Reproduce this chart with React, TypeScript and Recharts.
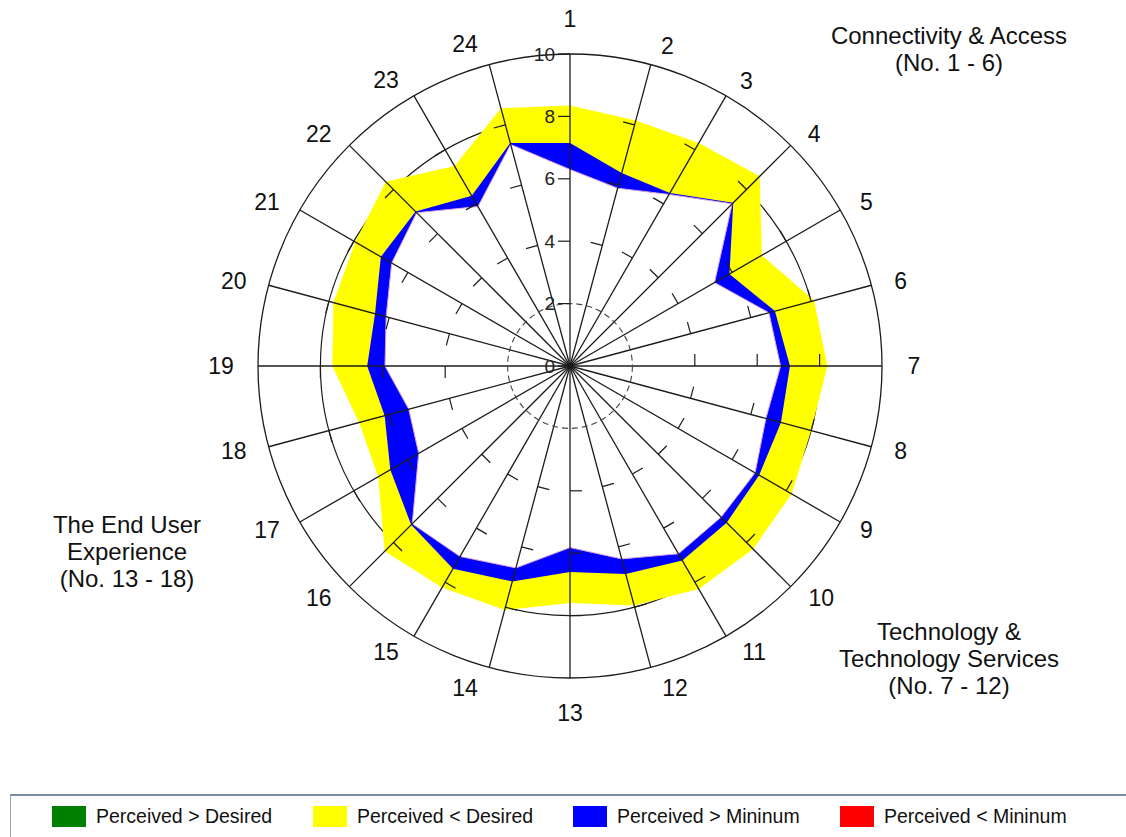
import { RadarChart, Radar, PolarGrid, PolarAngleAxis, PolarRadiusAxis } from 'recharts'

// survey items, 1..24 clockwise from the top
const items = [
  '1', '2', '3', '4', '5', '6', '7', '8', '9', '10', '11', '12',
  '13', '14', '15', '16', '17', '18', '19', '20', '21', '22', '23', '24',
]
const minimum = [
  6.3, 5.9, 6.35, 7.35, 5.35, 6.6, 6.75, 6.5, 6.85, 6.85, 6.95, 6.4,
  5.82, 6.7, 7.05, 7.15, 5.6, 5.35, 5.93, 6.1, 6.6, 6.95, 5.9, 7.35,
]
const perceived = [
  7.15, 6.4, 6.4, 7.4, 5.9, 6.8, 7.05, 7.0, 7.0, 7.1, 7.2, 6.9,
  6.6, 7.15, 7.5, 7.2, 6.65, 6.15, 6.5, 6.47, 7.0, 7.0, 6.3, 7.4,
]
const desired = [
  8.35, 8.15, 8.25, 8.6, 7.1, 8.1, 8.25, 8.0, 8.2, 8.3, 8.25, 7.95,
  7.6, 8.1, 8.2, 8.4, 7.1, 7.0, 7.62, 7.85, 7.95, 8.35, 7.4, 8.55,
]
const scaleMax = 10
const scaleTickCount = 6 // 0, 2, 4, 6, 8, 10
const spokeTickValues = [4, 6, 8]
const innerRing = 2
const middleRing = 8

const groupTopRight = ['Connectivity & Access', '(No. 1 - 6)']
const groupBottomRight = ['Technology &', 'Technology Services', '(No. 7 - 12)']
const groupLeft = ['The End User', 'Experience', '(No. 13 - 18)']

const legendItems = [
  { label: 'Perceived > Desired', color: '#008000' },
  { label: 'Perceived < Desired', color: '#ffff00' },
  { label: 'Perceived > Mininum', color: '#0000ff' },
  { label: 'Perceived < Mininum', color: '#ff0000' },
]

const data = items.map((item, i) => ({
  item,
  minimum: minimum[i],
  perceived: perceived[i],
  desired: desired[i],
}))

const W = 1126
const H = 790
const CX = 570
const CY = 366
const R = 312
const FONT = '"Liberation Sans", Arial, sans-serif'
const LINE = '#1c1c1c'
const noMargin = { top: 0, right: 0, bottom: 0, left: 0 }

// the old chart pushes its labels a little away from the vertical axis
function AngleTick(props: any) {
  const { x, y, payload } = props
  const label = String(payload.value)
  const th = Math.atan2(x - CX, -(y - CY))
  const s = Math.sin(th)
  const c = Math.cos(th)
  const two = label.length > 1
  let rho = 347
  let delta = 0
  if (Math.abs(s) > 1e-3) {
    rho = two ? 345 - 8 * Math.abs(c) + 4 * Math.abs(s) : 344 - 10 * Math.abs(c)
    delta = (((two ? 3.2 : 2.0) * c * Math.sign(s)) * Math.PI) / 180
  }
  const t = th + delta
  return (
    <text x={CX + rho * Math.sin(t)} y={CY - rho * Math.cos(t)} textAnchor="middle"
      dominantBaseline="central" fontSize={23} fontFamily={FONT} fill="#111">
      {label}
    </text>
  )
}

function makeSpokeTick(angle: number, labelled: boolean) {
  const rad = (angle * Math.PI) / 180
  const dx = -Math.sin(rad) * 12
  const dy = -Math.cos(rad) * 12
  return (props: any) => {
    const { x, y, payload } = props
    const v = Number(payload.value)
    if (!labelled && !spokeTickValues.includes(v)) return <g />
    return (
      <g>
        <line x1={x} y1={y} x2={x + dx} y2={y + dy} stroke={LINE} strokeWidth={1.2} />
        {labelled && (
          <text x={x - 15} y={y} textAnchor="end" dominantBaseline="central"
            fontSize={19} fontFamily={FONT} fill="#222">
            {v}
          </text>
        )}
      </g>
    )
  }
}

function TextBlock({ lines, cx, top }: { lines: string[]; cx: number; top: number }) {
  return (
    <div style={{
      position: 'absolute', left: cx - 160, top, width: 320, textAlign: 'center',
      fontFamily: FONT, fontSize: 24, lineHeight: '27px', color: '#111',
    }}>
      {lines.map((l) => <div key={l}>{l}</div>)}
    </div>
  )
}

const legendX = [52, 313, 573, 840]

export default function App() {
  return (
    <div style={{ position: 'absolute', left: 0, top: 0, width: W, height: 837, background: '#fff', overflow: 'hidden' }}>
      <div style={{ position: 'absolute', left: 0, top: 0 }}>
        <RadarChart width={W} height={H} data={data} cx={CX} cy={CY} outerRadius={R}
          startAngle={90} endAngle={-270} margin={noMargin}>
          <PolarGrid gridType="circle" radialLines={false}
            polarRadius={[(R * middleRing) / scaleMax]} stroke={LINE} strokeWidth={1.2} />
          <PolarAngleAxis dataKey="item" tick={false} tickLine={false} axisLine={false} />
          <PolarRadiusAxis domain={[0, scaleMax]} tick={false} axisLine={false} />
          <Radar dataKey="desired" fill="#ffff00" fillOpacity={1} stroke="none" isAnimationActive={false} />
          <Radar dataKey="perceived" fill="#0000ff" fillOpacity={1} stroke="none" isAnimationActive={false} />
          <Radar dataKey="minimum" fill="#ffffff" fillOpacity={1} stroke="#d9a3d9" strokeWidth={1} isAnimationActive={false} />
        </RadarChart>
      </div>
      <div style={{ position: 'absolute', left: 0, top: 0 }}>
        <RadarChart width={W} height={H} data={data} cx={CX} cy={CY} outerRadius={R}
          startAngle={90} endAngle={-270} margin={noMargin}>
          <PolarGrid gridType="circle" polarRadius={[R]} stroke={LINE} strokeWidth={1.3} />
          <PolarGrid gridType="circle" radialLines={false}
            polarRadius={[(R * innerRing) / scaleMax]} stroke="#444" strokeWidth={1.1} strokeDasharray="6 4" />
          <PolarAngleAxis dataKey="item" tickSize={31} tickLine={false} axisLine={false} tick={AngleTick} />
          {items.map((item, i) => (
            <PolarRadiusAxis
              key={item}
              angle={90 - i * 15}
              domain={[0, scaleMax]}
              tickCount={scaleTickCount}
              axisLine={false}
              tick={makeSpokeTick(90 - i * 15, i === 0)}
            />
          ))}
          <Radar dataKey="desired" fill="none" stroke="none" isAnimationActive={false} />
        </RadarChart>
      </div>
      <TextBlock lines={groupTopRight} cx={949} top={22} />
      <TextBlock lines={groupBottomRight} cx={949} top={618} />
      <TextBlock lines={groupLeft} cx={127} top={511} />
      <div style={{
        position: 'absolute', left: 10, top: 794, width: 1130, height: 60,
        borderTop: '2px solid #7d8ba5', borderLeft: '1px solid #9aa4b5',
      }} />
      {legendItems.map((it, i) => (
        <div key={it.label} style={{ position: 'absolute', left: legendX[i], top: 806, display: 'flex', alignItems: 'center' }}>
          <div style={{ width: 34, height: 21, background: it.color }} />
          <span style={{ marginLeft: 10, fontFamily: FONT, fontSize: 19.5, color: '#111', lineHeight: '21px' }}>
            {it.label}
          </span>
        </div>
      ))}
    </div>
  )
}
